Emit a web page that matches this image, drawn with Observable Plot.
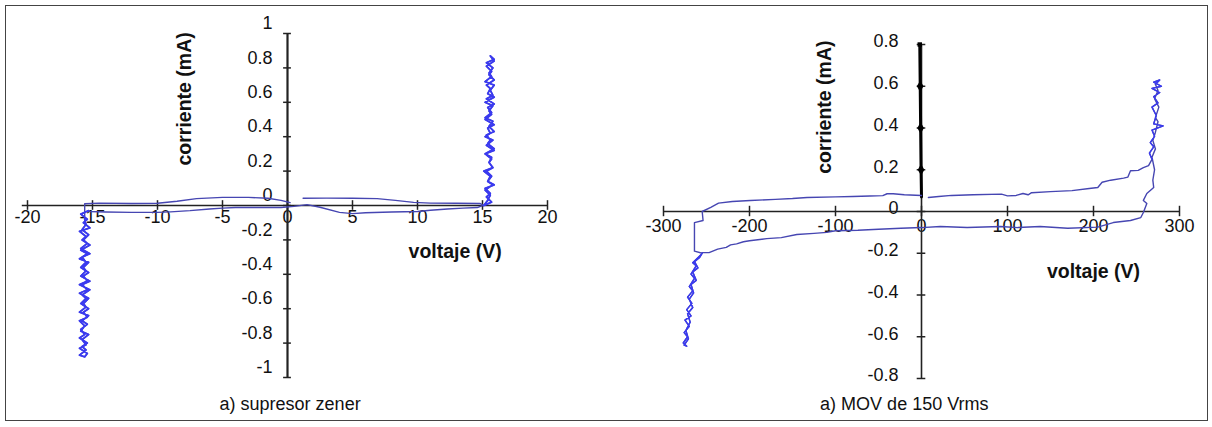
<!DOCTYPE html>
<html><head><meta charset="utf-8">
<script src="https://cdn.jsdelivr.net/npm/d3@7"></script>
<script src="https://cdn.jsdelivr.net/npm/@observablehq/plot@0.6"></script>
<style>
html,body{margin:0;padding:0;background:#fff;}
#wrap{position:relative;width:1212px;height:427px;overflow:hidden;background:#fff;}
#frame{position:absolute;left:5px;top:5px;width:1203px;height:416px;border:1.5px solid #444;box-sizing:border-box;}
#left,#right{position:absolute;top:0;}
#left{left:0px;}
#right{left:600px;}
svg{overflow:visible;}
</style></head><body>
<div id="wrap"><div id="frame"></div><div id="left"></div><div id="right"></div></div>
<script>
// ---------- Panel a) supresor zener ----------
const zTicksX = [-20, -15, -10, -5, 0, 5, 10, 15, 20];
const zLabelsX = ["-20", "-15", "-10", "-5", "0", "5", "10", "15", "20"];
const zTicksY = [1, 0.8, 0.6, 0.4, 0.2, 0, -0.2, -0.4, -0.6, -0.8, -1];
const zLabelsY = ["1", "0.8", "0.6", "0.4", "0.2", "0", "-0.2", "-0.4", "-0.6", "-0.8", "-1"];

const zSupDerV = [1.2, 3, 5, 6.9, 8.3, 9.7, 11, 13, 14.8];
const zSupDerI = [0.042, 0.043, 0.042, 0.04, 0.03, 0.018, 0.014, 0.013, 0.012];

const zVertDerV = [15.1, 15.7, 15.3, 15.6, 15.2, 15.9, 15.4, 15.6, 15.1, 15.8, 15.5, 15.7, 15.2, 15.9, 15.3, 15.8, 15.2, 15.6, 15.4, 15.9, 15.2, 15.7, 15.5, 15.8, 15.2, 15.9, 15.4, 15.6, 15.3, 15.9, 15.5, 15.7, 15.3, 15.9, 15.6,
  15.9, 15.3, 15.8, 15.5, 15.7, 15.2, 15.9, 15.6, 15.8, 15.3, 15.9, 15.4, 15.7, 15.2, 15.8, 15.5, 15.9, 15.3, 15.6, 15.4, 15.9, 15.2, 15.7, 15.5, 15.8, 15.3, 15.7, 15.4, 15.8, 15.2, 15.6, 15.4, 15.1];
const zVertDerI = [0.0, 0.02, 0.05, 0.07, 0.1, 0.12, 0.14, 0.17, 0.2, 0.22, 0.25, 0.27, 0.3, 0.32, 0.35, 0.38, 0.4, 0.42, 0.45, 0.47, 0.5, 0.53, 0.55, 0.58, 0.6, 0.63, 0.65, 0.68, 0.7, 0.73, 0.76, 0.78, 0.81, 0.84, 0.87,
  0.85, 0.83, 0.8, 0.77, 0.75, 0.72, 0.7, 0.67, 0.64, 0.62, 0.59, 0.57, 0.54, 0.51, 0.49, 0.46, 0.43, 0.41, 0.38, 0.36, 0.33, 0.3, 0.28, 0.25, 0.22, 0.2, 0.17, 0.14, 0.12, 0.09, 0.06, 0.03, 0.0];

const zInfDerV = [15.0, 14.6, 13.5, 12.3, 11, 10, 8, 6, 5, 4, 2.5, 1.5, 0.5, -0.5];
const zInfDerI = [0.0, -0.012, -0.015, -0.02, -0.028, -0.035, -0.038, -0.042, -0.047, -0.04, -0.01, 0.005, -0.005, -0.012];

const zInfIzqV = [-0.5, -2, -4, -5, -6, -7.5, -9, -10, -12, -14, -15.2];
const zInfIzqI = [-0.012, -0.012, -0.012, -0.015, -0.02, -0.03, -0.037, -0.04, -0.04, -0.038, -0.035];

const zVertIzqV = [-15.3, -15.9, -15.4, -15.7, -15.2, -16.0, -15.5, -15.8, -15.2, -15.9, -15.4, -16.0, -15.3, -15.7, -15.5, -15.9, -15.2, -15.8, -15.4, -16.0, -15.3, -15.7, -15.5, -16.0, -15.3, -15.8, -15.4, -15.9, -15.6, -16.0, -15.4, -15.8, -15.5, -16.0, -15.6,
  -15.4, -16.0, -15.5, -15.8, -15.3, -15.9, -15.6, -16.0, -15.4, -15.7, -15.3, -15.9, -15.5, -15.8, -15.2, -16.0, -15.4, -15.7, -15.3, -15.9, -15.5, -15.8, -15.2, -15.9, -15.4, -15.7, -15.3, -15.8, -15.5, -15.6];
const zVertIzqI = [-0.03, -0.05, -0.08, -0.1, -0.13, -0.15, -0.18, -0.2, -0.23, -0.26, -0.28, -0.31, -0.33, -0.36, -0.38, -0.41, -0.44, -0.46, -0.49, -0.51, -0.54, -0.57, -0.59, -0.62, -0.64, -0.67, -0.69, -0.72, -0.75, -0.77, -0.8, -0.82, -0.84, -0.87, -0.88,
  -0.86, -0.83, -0.81, -0.78, -0.75, -0.73, -0.7, -0.67, -0.65, -0.62, -0.6, -0.57, -0.54, -0.52, -0.49, -0.46, -0.44, -0.41, -0.39, -0.36, -0.33, -0.3, -0.28, -0.25, -0.22, -0.2, -0.17, -0.14, -0.11, -0.08, -0.05, -0.02].slice(0, 65);

const zSupIzqV = [-15.6, -14.5, -12, -10, -8.5, -7, -5, -3, -1.5, -0.5, 0.2];
const zSupIzqI = [0.01, 0.014, 0.012, 0.013, 0.025, 0.04, 0.047, 0.047, 0.042, 0.03, 0.017];

// ---------- Panel a) MOV de 150 Vrms ----------
const mTicksX = [-300, -200, -100, 0, 100, 200, 300];
const mLabelsX = ["-300", "-200", "-100", "0", "100", "200", "300"];
const mTicksY = [0.8, 0.6, 0.4, 0.2, 0, -0.2, -0.4, -0.6, -0.8];
const mLabelsY = ["0.8", "0.6", "0.4", "0.2", "0", "-0.2", "-0.4", "-0.6", "-0.8"];

const mSupDerV = [8, 20, 35, 60, 93, 100, 110, 118, 124, 128, 150, 175, 195, 205, 210, 220, 235, 240, 243, 252, 258, 264];
const mSupDerI = [0.067, 0.072, 0.077, 0.08, 0.083, 0.075, 0.077, 0.086, 0.08, 0.09, 0.095, 0.1, 0.11, 0.115, 0.14, 0.15, 0.16, 0.165, 0.195, 0.197, 0.21, 0.22];

const mVertDerV = [268, 265, 270, 266, 271, 268, 281, 270, 273, 268, 275, 270, 277, 268, 279, 270, 277, 272,
  275, 271, 276, 272, 275, 272, 269, 272, 268, 271, 269, 270, 262, 258, 262, 258, 255];
const mVertDerI = [0.25, 0.28, 0.31, 0.33, 0.36, 0.39, 0.41, 0.42, 0.46, 0.5, 0.52, 0.55, 0.57, 0.59, 0.6, 0.62, 0.63, 0.61,
  0.58, 0.54, 0.5, 0.45, 0.43, 0.38, 0.34, 0.3, 0.26, 0.2, 0.15, 0.115, 0.086, 0.053, 0.038, -0.005, -0.029];

const mInfDerV = [243, 223, 205, 170, 138, 112, 92, 53, 22, 0];
const mInfDerI = [-0.043, -0.053, -0.075, -0.08, -0.072, -0.077, -0.072, -0.077, -0.072, -0.077];

const mInfIzqV = [-24, -50, -74, -100, -110, -125, -145, -163, -180, -200, -207, -215, -222, -227, -237, -247, -255];
const mInfIzqI = [-0.08, -0.085, -0.09, -0.092, -0.1, -0.105, -0.11, -0.125, -0.13, -0.14, -0.145, -0.155, -0.16, -0.172, -0.18, -0.197, -0.197];

const mVertIzqV = [-257, -266, -262, -268, -264, -270, -266, -272, -267, -273, -268, -275, -270, -276, -272, -277, -273, -276,
  -271, -274, -269, -272, -266, -270, -265, -268, -262, -266, -260, -264, -258, -255];
const mVertIzqI = [-0.21, -0.245, -0.26, -0.3, -0.32, -0.36, -0.38, -0.41, -0.44, -0.47, -0.5, -0.52, -0.55, -0.58, -0.6, -0.63, -0.645, -0.64,
  -0.61, -0.57, -0.53, -0.49, -0.46, -0.42, -0.39, -0.35, -0.33, -0.29, -0.27, -0.24, -0.22, -0.2];

const mGanchoV = [-264, -264, -254, -255];
const mGanchoI = [-0.19, -0.053, -0.043, 0.0];

const mSupIzqV = [-245, -236, -220, -199, -170, -150, -133, -100, -80, -60, -45, -40, -33, -20, 0];
const mSupIzqI = [0.02, 0.04, 0.048, 0.053, 0.058, 0.062, 0.067, 0.07, 0.072, 0.074, 0.076, 0.085, 0.085, 0.08, 0.077];

// black series drawn on the positive y axis
const mEjeV = [-2, -1.5, -1, -0.5, 0];
const mEjeI = [0.8, 0.6, 0.4, 0.2, 0.07];

// ---------- helpers ----------
const rows = (V, I) => V.map((v, k) => ({v, i: I[k]}));
const LINE = "#4646b2";
const VERT = "#3a3af0";
const FONT = "Liberation Sans, Arial, Helvetica, sans-serif";
const TICK = 18;
const TITLE = 19.5;
const CAP = 18;

const zLoop = [].concat(rows(zSupDerV, zSupDerI), rows(zVertDerV, zVertDerI), rows(zInfDerV, zInfDerI),
  rows(zInfIzqV, zInfIzqI), rows(zVertIzqV, zVertIzqI), rows(zSupIzqV, zSupIzqI));
const mLoop = [].concat(rows(mSupDerV, mSupDerI), rows(mVertDerV, mVertDerI), rows(mInfDerV, mInfDerI),
  rows(mInfIzqV, mInfIzqI), rows(mVertIzqV, mVertIzqI), rows(mGanchoV, mGanchoI), rows(mSupIzqV, mSupIzqI));

const left = Plot.plot({
  width: 600, height: 427,
  x: {domain: [-20, 20], range: [27, 547], axis: null},
  y: {domain: [-1, 1], range: [377, 33], axis: null},
  style: {fontFamily: FONT, background: "transparent", overflow: "visible"},
  marks: [
    Plot.text(zTicksX, {x: d => d, y: 0, text: (d, k) => zLabelsX[k], dy: 12, fontSize: TICK, fill: "#111"}),
    Plot.text(zTicksY, {x: 0, y: d => d, text: (d, k) => zLabelsY[k], dx: -15, dy: -10, textAnchor: "end", fontSize: TICK, fill: "#111"}),
    Plot.ruleY([0], {x1: -20.4, x2: 20, stroke: "#222", strokeWidth: 1.5}),
    Plot.ruleX(zTicksX, {x: d => d, y1: -0.028, y2: 0.028, stroke: "#222", strokeWidth: 1.5}),
    Plot.ruleX([0], {y1: -1, y2: 1, stroke: "#222", strokeWidth: 2.2}),
    Plot.ruleY(zTicksY, {y: d => d, x1: -0.3, x2: 0.3, stroke: "#222", strokeWidth: 1.5}),
    Plot.line(zLoop, {x: "v", y: "i", stroke: LINE, strokeWidth: 1.4}),
    Plot.line(rows(zVertDerV, zVertDerI), {x: "v", y: "i", stroke: VERT, strokeWidth: 1.8}),
    Plot.line(rows(zVertIzqV, zVertIzqI), {x: "v", y: "i", stroke: VERT, strokeWidth: 1.8}),
    Plot.text(["corriente (mA)"], {x: -7.9, y: 0.62, text: d => d, rotate: -90, fontSize: TITLE, fontWeight: "bold", fill: "#111"}),
    Plot.text(["voltaje (V)"], {x: 12.9, y: -0.27, text: d => d, fontSize: TITLE, fontWeight: "bold", fill: "#111"}),
    Plot.text(["a) supresor zener"], {x: 0.2, y: -1.155, text: d => d, fontSize: CAP, fill: "#111"})
  ]
});
document.getElementById("left").appendChild(left);

const right = Plot.plot({
  width: 612, height: 427,
  x: {domain: [-300, 300], range: [63, 579], axis: null},
  y: {domain: [-0.8, 0.8], range: [378, 44], axis: null},
  style: {fontFamily: FONT, background: "transparent", overflow: "visible"},
  marks: [
    Plot.text(mTicksX, {x: d => d, y: 0, text: (d, k) => mLabelsX[k], dy: 15, fontSize: TICK, fill: "#111"}),
    Plot.text(mTicksY, {x: 0, y: d => d, text: (d, k) => mLabelsY[k], dx: -23, dy: -3, textAnchor: "end", fontSize: TICK, fill: "#111"}),
    Plot.ruleY([0], {x1: -300, x2: 300, stroke: "#222", strokeWidth: 1.5}),
    Plot.ruleX(mTicksX, {x: d => d, y1: -0.025, y2: 0.025, stroke: "#222", strokeWidth: 1.5}),
    Plot.ruleX([0], {y1: -0.8, y2: 0.8, stroke: "#222", strokeWidth: 1.6}),
    Plot.ruleY(mTicksY, {y: d => d, x1: -5, x2: 5, stroke: "#222", strokeWidth: 1.5}),
    Plot.line(rows(mEjeV, mEjeI), {x: "v", y: "i", stroke: "#000", strokeWidth: 3}),
    Plot.dot(rows(mEjeV, mEjeI).slice(1, 4), {x: "v", y: "i", symbol: "diamond", r: 3.5, fill: "#000"}),
    Plot.dot(rows(mEjeV, mEjeI).slice(0, 1), {x: "v", y: "i", symbol: "square", r: 2.5, fill: "#000"}),
    Plot.line(mLoop, {x: "v", y: "i", stroke: LINE, strokeWidth: 1.4}),
    Plot.line(rows(mVertIzqV, mVertIzqI), {x: "v", y: "i", stroke: VERT, strokeWidth: 1.4}),
    Plot.line(rows(mVertDerV, mVertDerI).slice(0, 18), {x: "v", y: "i", stroke: VERT, strokeWidth: 1.3}),
    Plot.text(["corriente (mA)"], {x: -112, y: 0.5, text: d => d, rotate: -90, fontSize: TITLE, fontWeight: "bold", fill: "#111"}),
    Plot.text(["voltaje (V)"], {x: 200, y: -0.29, text: d => d, fontSize: TITLE, fontWeight: "bold", fill: "#111"}),
    Plot.text(["a) MOV de 150 Vrms"], {x: -20, y: -0.925, text: d => d, fontSize: CAP, fill: "#111"})
  ]
});
document.getElementById("right").appendChild(right);
</script>
</body></html>
